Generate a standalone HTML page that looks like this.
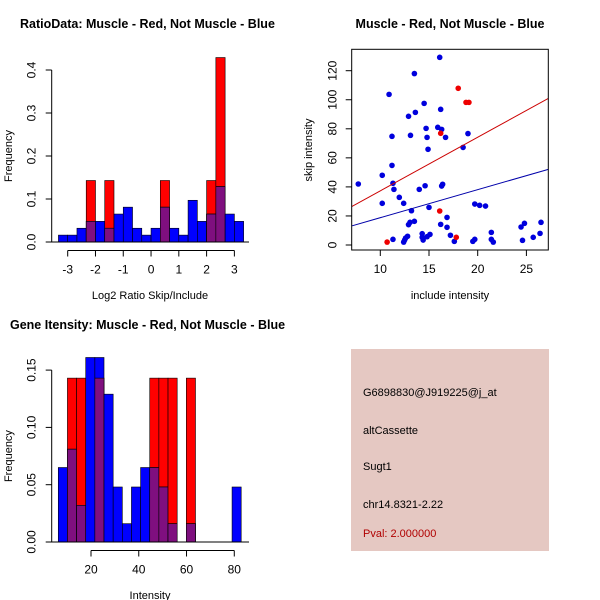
<!DOCTYPE html>
<html><head><meta charset="utf-8"><style>
body{margin:0;background:#fff}
svg{display:block;font-family:"Liberation Sans",sans-serif}
</style></head><body>
<svg id="c" width="600" height="600" viewBox="0 0 600 600">
<rect x="0" y="0" width="600" height="600" fill="#fff"/>
<g id="p1"></g>
<g id="p2"></g>
<g id="p3"></g>
<g>
<rect x="351" y="349" width="198" height="202" fill="#e5c8c2"/>
<g font-size="11" fill="#000">
<text x="363" y="396">G6898830@J919225@j_at</text>
<text x="363" y="434">altCassette</text>
<text x="363" y="470">Sugt1</text>
<text x="363" y="508">chr14.8321-2.22</text>
<text x="363" y="537" fill="#b00000">Pval: 2.000000</text>
</g></g>
</svg>
<script>
// Ratio histogram data
const ratioBinStart = -3.3333;
const ratioBinWidth = 0.33333;
const ratioBlue = [0.016,0.016,0.032,0.048,0.048,0.032,0.065,0.081,0.032,0.016,0.032,0.081,0.032,0.016,0.097,0.048,0.065,0.129,0.065,0.048];
const ratioRed  = [0,0,0,0.143,0,0.143,0,0,0,0,0,0.143,0,0,0,0,0.143,0.429,0,0];
const ratioXTicks = [-3,-2,-1,0,1,2,3];
const ratioYTicks = [0,0.1,0.2,0.3,0.4];
const ratioYLabels = ["0.0","0.1","0.2","0.3","0.4"];
// Intensity histogram data
const intBinStart = 6.3;
const intBinWidth = 3.83;
const intBlue = [0.065,0.081,0.032,0.161,0.161,0.129,0.048,0.016,0.048,0.065,0.065,0.048,0.016,0,0.016,0,0,0,0,0.048];
const intRed  = [0,0.143,0.143,0,0.143,0,0,0,0,0,0.143,0.143,0.143,0,0.143,0,0,0,0,0];
const intXTicks = [20,40,60,80];
const intYTicks = [0,0.05,0.10,0.15];
const intYLabels = ["0.00","0.05","0.10","0.15"];
// Scatter data
const blueX = [7.74,10.2,10.2,10.9,11.2,11.2,11.3,11.4,11.3,11.95,12.4,12.4,12.5,12.6,12.8,12.9,12.9,13.05,13.1,13.2,13.5,13.5,13.6,14,14.3,14.3,14.4,14.5,14.6,14.7,14.8,14.8,14.9,15,15.1,15.9,16.1,16.2,16.2,16.3,16.3,16.4,16.7,16.85,16.85,17.2,17.6,18.5,19,19.5,19.7,19.7,20.2,20.8,21.4,21.4,21.6,24.45,24.8,24.6,25.7,26.4,26.5];
const blueY = [42,48,28.7,103.7,74.8,54.8,42.5,38.3,3.9,32.8,28.7,2,3.4,4.8,6,88.6,14,15.6,75.5,23.6,118,16.3,91.3,38.3,7.8,5.3,3.4,97.5,40.8,80.3,74.1,5.7,65.9,25.9,7.3,81,129.2,93.4,14.2,79.6,40.6,41.8,74.1,19,12.2,6.7,2.5,67.2,76.7,2.5,3.9,28.2,27.3,26.8,8.7,3.9,2,12.4,14.9,3.2,5.3,8,15.6];
const redX = [10.7,16.1,16.2,17.8,18,18.8,19.1];
const redY = [2,23.4,76.9,5.3,107.9,98.2,98.2];
const fitSlope = [3.69,1.93];
const fitIntercept = [0.39,-0.5];
const scatterXTicks = [10,15,20,25];
const scatterYTicks = [0,20,40,60,80,100,120];

const NS="http://www.w3.org/2000/svg";
function mk(parent,tag,attrs,text){const e=document.createElementNS(NS,tag);for(const k in attrs)e.setAttribute(k,attrs[k]);if(text!==undefined)e.textContent=text;parent.appendChild(e);return e;}

function hist(g,o){
  const sx=v=>o.x0+(v-o.xv0)*o.xs, sy=v=>o.base-v*o.ys;
  mk(g,'text',{x:o.titleX,y:o.titleY,'font-size':12.5,'font-weight':'bold'},o.title);
  for(let i=0;i<o.blue.length;i++){
    const x=sx(o.start+i*o.w), w=o.w*o.xs;
    const r=o.red[i], b=o.blue[i];
    if(r>0){const e=mk(g,'rect',{x:x,y:sy(r),width:w,height:r*o.ys,fill:'#ff0000',stroke:'#000','stroke-width':0.6});
      }
    if(b>0){const e=mk(g,'rect',{x:x,y:sy(b),width:w,height:b*o.ys,fill:'#0000ff',stroke:'#000','stroke-width':0.6});
      }
    const m=Math.min(r,b);
    if(m>0){const e=mk(g,'rect',{x:x,y:sy(m),width:w,height:m*o.ys,fill:'#7f0f7f',stroke:'#000','stroke-width':0.6});
      }
  }
  mk(g,'line',{x1:o.x0l,x2:o.x1l,y1:o.base,y2:o.base,stroke:'#000'});
  const xa=mk(g,'g',{});
  const ay=o.base+8.5;
  mk(xa,'line',{x1:sx(o.xt[0]),x2:sx(o.xt[o.xt.length-1]),y1:ay,y2:ay,stroke:'#000'});
  o.xt.forEach(t=>{mk(xa,'line',{x1:sx(t),x2:sx(t),y1:ay,y2:ay+6,stroke:'#000'});
    mk(xa,'text',{x:sx(t),y:ay+23,'font-size':12,'text-anchor':'middle'},String(t));});
  mk(xa,'text',{x:o.xlx,y:o.base+57,'font-size':11,'text-anchor':'middle'},o.xlabel);
  const ya=mk(g,'g',{});
  const axx=o.yax;
  mk(ya,'line',{x1:axx,x2:axx,y1:sy(o.yt[0]),y2:sy(o.yt[o.yt.length-1]),stroke:'#000'});
  o.yt.forEach((t,i)=>{const y=sy(t);mk(ya,'line',{x1:axx-6,x2:axx,y1:y,y2:y,stroke:'#000'});
    mk(ya,'text',{x:axx-16,y:y,'font-size':12,'text-anchor':'middle',transform:`rotate(-90 ${axx-16} ${y})`},o.yl[i]);});
  const my=(sy(o.yt[0])+sy(o.yt[o.yt.length-1]))/2;
  mk(ya,'text',{x:12,y:my,'font-size':11,'text-anchor':'middle',transform:`rotate(-90 12 ${my})`},'Frequency');
}

hist(document.getElementById('p1'),{title:'RatioData: Muscle - Red, Not Muscle - Blue',titleX:20,titleY:28,
  start:ratioBinStart,w:ratioBinWidth,blue:ratioBlue,red:ratioRed,x0:67.7,xv0:-3,xs:27.78,base:242,ys:430,
  x0l:51,x1l:249,xt:ratioXTicks,yt:ratioYTicks,yl:ratioYLabels,yax:51.7,xlabel:'Log2 Ratio Skip/Include',xlx:150});
hist(document.getElementById('p3'),{title:'Gene Itensity: Muscle - Red, Not Muscle - Blue',titleX:10,titleY:329,
  start:intBinStart,w:intBinWidth,blue:intBlue,red:intRed,x0:91,xv0:20,xs:2.388,base:542,ys:1146,
  x0l:51,x1l:249,xt:intXTicks,yt:intYTicks,yl:intYLabels,yax:51.7,xlabel:'Intensity',xlx:150});

(function(){
  const g=document.getElementById('p2');
  const L=351.7,R=548.3,T=49.3,B=250;
  const sx=v=>380.3+(v-10)*9.74, sy=v=>245-v*1.4525;
  mk(g,'text',{x:450,y:28,'font-size':12.5,'font-weight':'bold','text-anchor':'middle'},'Muscle - Red, Not Muscle - Blue');
  const cp=mk(g,'clipPath',{id:'clip'});mk(cp,'rect',{x:L,y:T,width:R-L,height:B-T});
  const pts=mk(g,'g',{'clip-path':'url(#clip)'});
  blueX.forEach((x,i)=>{const c=mk(pts,'circle',{cx:sx(x),cy:sy(blueY[i]),r:2.8,fill:'#0000dd'});
    });
  redX.forEach((x,i)=>{const c=mk(pts,'circle',{cx:sx(x),cy:sy(redY[i]),r:2.8,fill:'#ee0000'});
    });
  const xa0=(L-380.3)/9.74+10, xa1=(R-380.3)/9.74+10;
  ['#cc0000','#0000aa'].forEach((col,k)=>{const l=mk(pts,'line',{x1:sx(xa0),y1:sy(fitIntercept[k]+fitSlope[k]*xa0),x2:sx(xa1),y2:sy(fitIntercept[k]+fitSlope[k]*xa1),stroke:col,'stroke-width':1});
    });
  mk(g,'rect',{x:L,y:T,width:R-L,height:B-T,fill:'none',stroke:'#000'});
  const xa=mk(g,'g',{});
  scatterXTicks.forEach(t=>{mk(xa,'line',{x1:sx(t),x2:sx(t),y1:B,y2:B+6,stroke:'#000'});
    mk(xa,'text',{x:sx(t),y:B+23,'font-size':12,'text-anchor':'middle'},String(t));});
  mk(xa,'text',{x:450,y:299,'font-size':11,'text-anchor':'middle'},'include intensity');
  const ya=mk(g,'g',{});
  scatterYTicks.forEach(t=>{const y=sy(t);mk(ya,'line',{x1:L-6,x2:L,y1:y,y2:y,stroke:'#000'});
    mk(ya,'text',{x:L-15,y:y,'font-size':12,'text-anchor':'middle',transform:`rotate(-90 ${L-15} ${y})`},String(t));});
  mk(ya,'text',{x:312,y:150,'font-size':11,'text-anchor':'middle',transform:'rotate(-90 312 150)'},'skip intensity');
})();
</script>
</body></html>
